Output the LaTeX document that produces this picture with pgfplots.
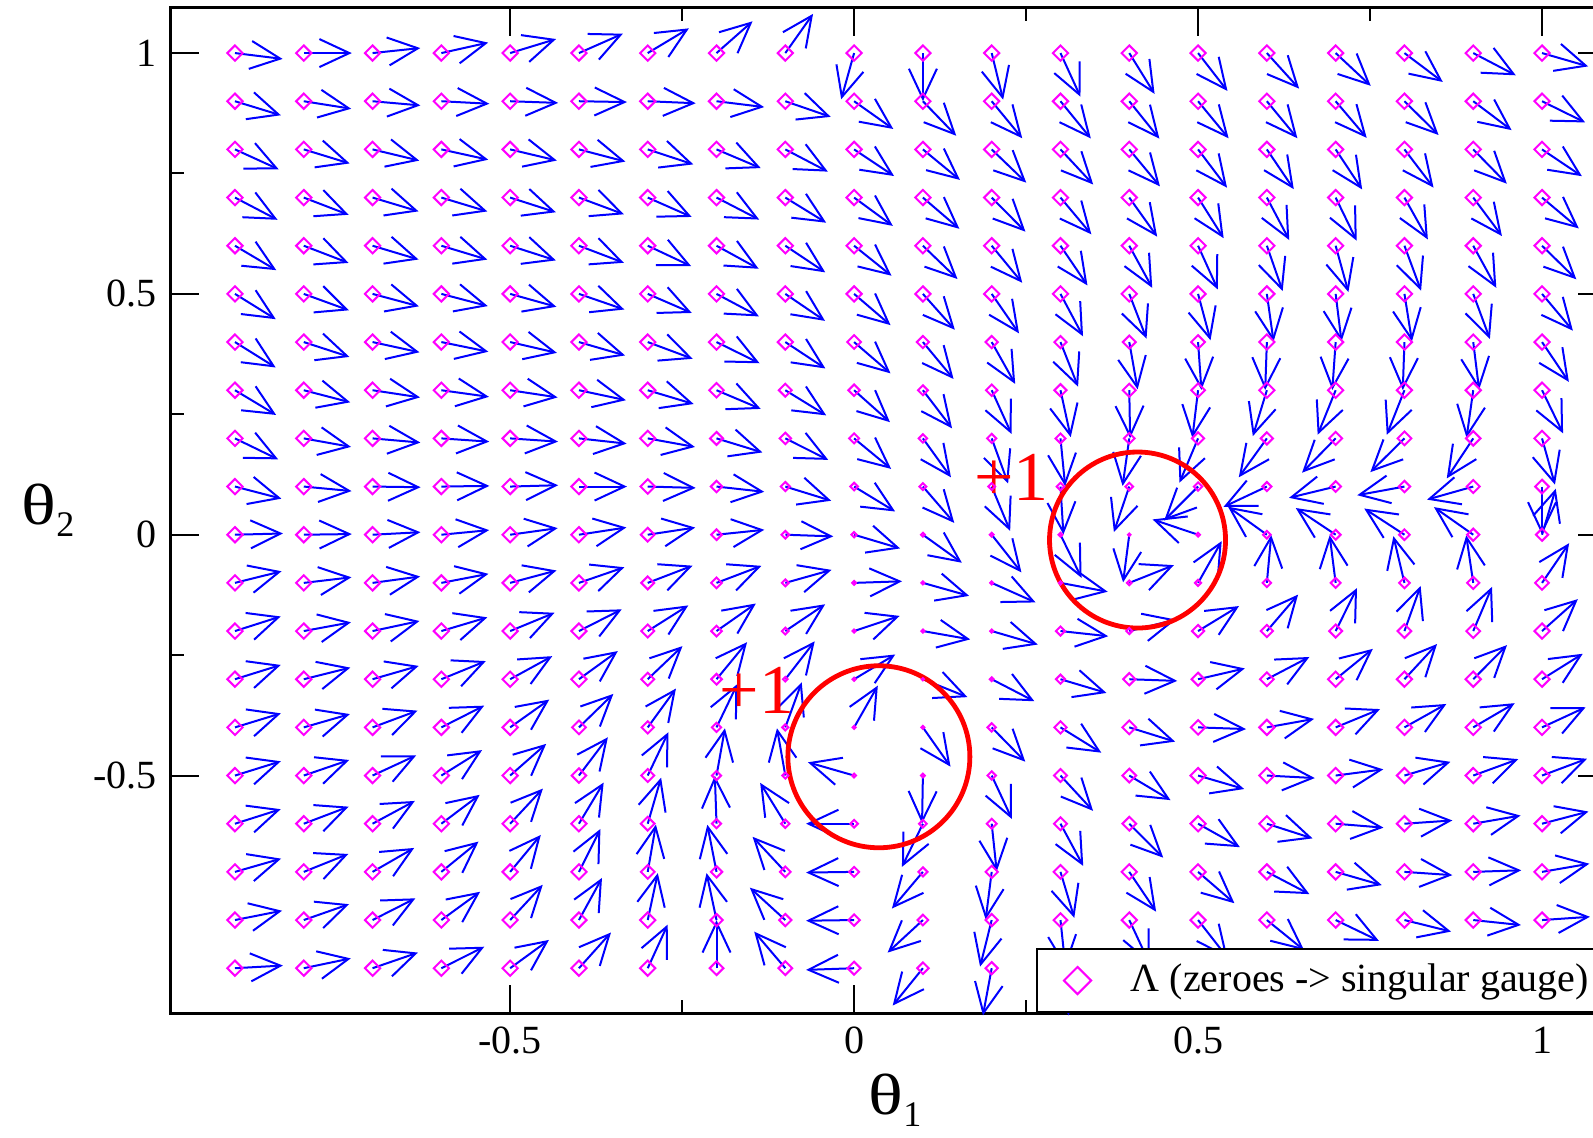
\documentclass[border=0pt]{standalone}
\usepackage{fontspec}
\setmainfont{Liberation Serif}
\usepackage{pgfplots}
\usepackage{pgfplotstable}
\pgfplotsset{compat=1.18}
\usetikzlibrary{arrows.meta}
\definecolor{mag}{RGB}{255,0,255}
\definecolor{vblue}{RGB}{0,0,255}
\definecolor{vred}{RGB}{255,0,0}

\pgfplotstableread{
x y a s
-0.9 1.0 -7 1
-0.8 1.0 0 1
-0.7 1.0 6 1
-0.6 1.0 12.6 1
-0.5 1.0 17 1
-0.4 1.0 23.8 1
-0.3 1.0 31 1
-0.2 1.0 41.4 1
-0.1 1.0 54.7 1
0.0 1.0 -105.6 1
0.1 1.0 -90 1
0.2 1.0 -76.2 1
0.3 1.0 -65.4 1
0.4 1.0 -58.2 1
0.5 1.0 -52.2 1
0.6 1.0 -47.8 1
0.7 1.0 -43 1
0.8 1.0 -37 1
0.9 1.0 -27.6 1
1.0 1.0 -16.1 1
-0.9 0.9 -17 1
-0.8 0.9 -9 1
-0.7 0.9 -5 1
-0.6 0.9 -3 1
-0.5 0.9 -2 1
-0.4 0.9 -1 1
-0.3 0.9 -2.4 1
-0.2 0.9 -7 1
-0.1 0.9 -19 1
0.0 0.9 -35.3 1
0.1 0.9 -46 1
0.2 0.9 -50.5 1
0.3 0.9 -50.8 1
0.4 0.9 -51.2 1
0.5 0.9 -50.5 1
0.6 0.9 -50.5 1
0.7 0.9 -49.7 1
0.8 0.9 -44.7 1
0.9 0.9 -37 1
1.0 0.9 -26.2 1
-0.9 0.8 -24.5 1
-0.8 0.8 -17 1
-0.7 0.8 -13.5 1
-0.6 0.8 -12.4 1
-0.5 0.8 -13.4 1
-0.4 0.8 -14.7 1
-0.3 0.8 -18.2 1
-0.2 0.8 -22.9 1
-0.1 0.8 -27.6 1
0.0 0.8 -33.7 1
0.1 0.8 -39.5 1
0.2 0.8 -43.9 1
0.3 0.8 -47 1
0.4 0.8 -50.3 1
0.5 0.8 -52.9 1
0.6 0.8 -55.9 1
0.7 0.8 -56.5 1
0.8 0.8 -52.7 1
0.9 0.8 -45.6 1
1.0 0.8 -33.9 1
-0.9 0.7 -27.6 1
-0.8 0.7 -21 1
-0.7 0.7 -16.7 1
-0.6 0.7 -16.8 1
-0.5 0.7 -17.8 1
-0.4 0.7 -20.4 1
-0.3 0.7 -23.8 1
-0.2 0.7 -27.3 1
-0.1 0.7 -31.6 1
0.0 0.7 -36.2 1
0.1 0.7 -40.6 1
0.2 0.7 -45.3 1
0.3 0.7 -50 1
0.4 0.7 -54.5 1
0.5 0.7 -57.8 1
0.6 0.7 -62.2 1
0.7 0.7 -64 1
0.8 0.7 -60.8 1
0.9 0.7 -53.3 1
1.0 0.7 -40 1
-0.9 0.6 -30.6 1
-0.8 0.6 -21 1
-0.7 0.6 -16.7 1
-0.6 0.6 -16.8 1
-0.5 0.6 -17.8 1
-0.4 0.6 -20.8 1
-0.3 0.6 -25.2 1
-0.2 0.6 -28.7 1
-0.1 0.6 -33.7 1
0.0 0.6 -38.7 1
0.1 0.6 -43.9 1
0.2 0.6 -50.5 1
0.3 0.6 -55.8 1
0.4 0.6 -61.4 1
0.5 0.6 -65.7 1
0.6 0.6 -70.8 1
0.7 0.6 -74.6 1
0.8 0.6 -69.7 1
0.9 0.6 -61.3 1
1.0 0.6 -44.4 1
-0.9 0.5 -31.8 1
-0.8 0.5 -20 1
-0.7 0.5 -15 1
-0.6 0.5 -14.7 1
-0.5 0.5 -15.6 1
-0.4 0.5 -19 1
-0.3 0.5 -23.4 1
-0.2 0.5 -28 1
-0.1 0.5 -34.2 1
0.0 0.5 -40.6 1
0.1 0.5 -48.3 1
0.2 0.5 -55.3 1
0.3 0.5 -62 1
0.4 0.5 -68.9 1
0.5 0.5 -75 1
0.6 0.5 -82 1
0.7 0.5 -83 1
0.8 0.5 -81 1
0.9 0.5 -69.7 1
1.0 0.5 -50 1
-0.9 0.4 -32 1
-0.8 0.4 -18 1
-0.7 0.4 -12.3 1
-0.6 0.4 -11.6 1
-0.5 0.4 -13 1
-0.4 0.4 -16.2 1
-0.3 0.4 -20.4 1
-0.2 0.4 -26.2 1
-0.1 0.4 -33.4 1
0.0 0.4 -40.7 0.9
0.1 0.4 -50.3 0.8
0.2 0.4 -60.7 0.8
0.3 0.4 -68.5 0.8
0.4 0.4 -80 0.85
0.5 0.4 -86 0.9
0.6 0.4 -92 1
0.7 0.4 -94 1
0.8 0.4 -92 1
0.9 0.4 -83 1
1.0 0.4 -56 1
-0.9 0.3 -31 1
-0.8 0.3 -14.6 1
-0.7 0.3 -8.6 1
-0.6 0.3 -7.9 1
-0.5 0.3 -8.6 1
-0.4 0.3 -12 1
-0.3 0.3 -16.7 1
-0.2 0.3 -22.9 0.95
-0.1 0.3 -31.6 0.85
0.0 0.3 -41.7 0.75
0.1 0.3 -52.6 0.65
0.2 0.3 -65.6 0.75
0.3 0.3 -77.7 0.8
0.4 0.3 -89 0.85
0.5 0.3 -96.8 0.9
0.6 0.3 -107 1
0.7 0.3 -112 1
0.8 0.3 -111.6 1
0.9 0.3 -98 1
1.0 0.3 -64 1
-0.9 0.2 -25.9 1
-0.8 0.2 -10.2 1
-0.7 0.2 -5 1
-0.6 0.2 -3.9 1
-0.5 0.2 -3.9 1
-0.4 0.2 -6.3 1
-0.3 0.2 -10.3 1
-0.2 0.2 -17 0.85
-0.1 0.2 -26.6 0.75
0.0 0.2 -39.5 0.65
0.1 0.2 -54.2 0.55
0.2 0.2 -70 0.6
0.3 0.2 -84.4 0.65
0.4 0.2 -98 0.7
0.5 0.2 -112.8 0.8
0.6 0.2 -125.8 0.8
0.7 0.2 -134.4 0.85
0.8 0.2 -135.3 0.9
0.9 0.2 -123.5 0.95
1.0 0.2 -74.4 1
-0.9 0.1 -14.6 1
-0.8 0.1 -5.4 1
-0.7 0.1 -0.8 1
-0.6 0.1 0.8 1
-0.5 0.1 1.6 1
-0.4 0.1 0 1
-0.3 0.1 -1.6 0.95
-0.2 0.1 -6.3 0.75
-0.1 0.1 -17.2 0.6
0.0 0.1 -31.3 0.5
0.1 0.1 -49.2 0.45
0.2 0.1 -67.4 0.45
0.3 0.1 -86.5 0.5
0.4 0.1 -108.7 0.5
0.5 0.1 -135 0.55
0.6 0.1 -154.8 0.6
0.7 0.1 -166.4 0.7
0.8 0.1 -169.6 0.75
0.9 0.1 -164.2 0.85
1.0 0.1 -90 0.9
-0.9 0.0 1.5 1
-0.8 0.0 0.8 1
-0.7 0.0 3 1
-0.6 0.0 5.5 1
-0.5 0.0 7.9 1
-0.4 0.0 8.7 1
-0.3 0.0 8.6 0.9
-0.2 0.0 5.9 0.7
-0.1 0.0 -2 0.5
0.0 0.0 -16.6 0.35
0.1 0.0 -35.7 0.25
0.2 0.0 -51.7 0.25
0.3 0.0 -64 0.25
0.4 0.0 -97.4 0.15
0.5 0.0 161.4 0.25
0.6 0.0 144.2 0.5
0.7 0.0 146.2 0.65
0.8 0.0 146.9 0.7
0.9 0.0 144.9 0.8
1.0 0.0 73.4 0.8
-0.9 -0.1 14 1
-0.8 -0.1 6.7 1
-0.7 -0.1 7.7 1
-0.6 -0.1 10.9 1
-0.5 -0.1 15 1
-0.4 -0.1 19 1
-0.3 -0.1 21 0.85
-0.2 -0.1 20.8 0.7
-0.1 -0.1 15.7 0.45
0.0 -0.1 1.9 0.25
0.1 -0.1 -15.7 0.2
0.2 -0.1 -24 0.2
0.3 -0.1 -10.6 0.2
0.4 -0.1 21.7 0.3
0.5 -0.1 60.5 0.4
0.6 -0.1 84.8 0.55
0.7 -0.1 97.2 0.65
0.8 -0.1 103.3 0.7
0.9 -0.1 98.4 0.8
1.0 -0.1 55.7 0.9
-0.9 -0.2 17.7 1
-0.8 -0.2 10.5 1
-0.7 -0.2 12.1 1
-0.6 -0.2 16.6 1
-0.5 -0.2 22.4 1
-0.4 -0.2 26.9 1
-0.3 -0.2 32.3 0.85
-0.2 -0.2 35 0.7
-0.1 -0.2 33.9 0.45
0.0 -0.2 18.4 0.2
0.1 -0.2 -10 0.2
0.2 -0.2 -16.3 0.2
0.3 -0.2 -6.2 0.6
0.4 -0.2 13.8 0.4
0.5 -0.2 31.4 0.8
0.6 -0.2 49.4 0.8
0.7 -0.2 63.6 0.85
0.8 -0.2 70.3 0.9
0.9 -0.2 67 0.9
1.0 -0.2 41.7 1
-0.9 -0.3 17.3 1
-0.8 -0.3 14 1
-0.7 -0.3 16.1 1
-0.6 -0.3 22.2 1
-0.5 -0.3 28.7 1
-0.4 -0.3 35.9 1
-0.3 -0.3 43.6 0.85
-0.2 -0.3 50.5 0.7
-0.1 -0.3 52.2 0.3
0.0 -0.3 31 0.2
0.1 -0.3 -21.9 0.15
0.2 -0.3 -27.3 0.25
0.3 -0.3 -16.6 0.6
0.4 -0.3 -2 0.8
0.5 -0.3 13 0.85
0.6 -0.3 27.6 0.9
0.7 -0.3 39.2 1
0.8 -0.3 47.2 1
0.9 -0.3 45.3 1
1.0 -0.3 32 1
-0.9 -0.4 17 1
-0.8 -0.4 16.1 1
-0.7 -0.4 20.4 1
-0.6 -0.4 26.9 1
-0.5 -0.4 35.4 1
-0.4 -0.4 44.2 0.9
-0.3 -0.4 54 0.8
-0.2 -0.4 64.3 0.6
-0.1 -0.4 70 0.4
0.0 -0.4 60.4 0.2
0.1 -0.4 -54.9 0.2
0.2 -0.4 -45.6 0.55
0.3 -0.4 -31.8 0.8
0.4 -0.4 -17.3 0.9
0.5 -0.4 -2 0.95
0.6 -0.4 10.2 1
0.7 -0.4 22.4 1
0.8 -0.4 29.2 1
0.9 -0.4 30.3 1
1.0 -0.4 24.8 1
-0.9 -0.5 17.3 1
-0.8 -0.5 18.9 1
-0.7 -0.5 24.8 1
-0.6 -0.5 32 1
-0.5 -0.5 41.3 1
-0.4 -0.5 52.9 0.95
-0.3 -0.5 64.5 0.85
-0.2 -0.5 79.9 0.6
-0.1 -0.5 100 0.4
0.0 -0.5 164 0.25
0.1 -0.5 -91 0.25
0.2 -0.5 -65 0.55
0.3 -0.5 -47.3 0.85
0.4 -0.5 -30.8 0.9
0.5 -0.5 -16.3 1
0.6 -0.5 -3 1
0.7 -0.5 7.4 1
0.8 -0.5 16.6 1
0.9 -0.5 20 1
1.0 -0.5 20.5 1
-0.9 -0.6 17.6 1
-0.8 -0.6 20.8 1
-0.7 -0.6 28.3 1
-0.6 -0.6 37 1
-0.5 -0.6 47 1
-0.4 -0.6 59 1
-0.3 -0.6 73.8 0.9
-0.2 -0.6 92 0.6
-0.1 -0.6 121.6 0.55
0.0 -0.6 180 0.5
0.1 -0.6 -115.9 0.5
0.2 -0.6 -84 0.65
0.3 -0.6 -61.7 0.85
0.4 -0.6 -45 0.9
0.5 -0.6 -29.3 1
0.6 -0.6 -17.8 1
0.7 -0.6 -4.7 1
0.8 -0.6 3.9 1
0.9 -0.6 9.8 1
1.0 -0.6 14.7 1
-0.9 -0.7 16 1
-0.8 -0.7 21.9 1
-0.7 -0.7 29.9 1
-0.6 -0.7 39.2 1
-0.5 -0.7 50.3 1
-0.4 -0.7 63.4 1
-0.3 -0.7 80.2 0.9
-0.2 -0.7 101 0.75
-0.1 -0.7 133 0.7
0.0 -0.7 180.8 0.65
0.1 -0.7 -130.2 0.6
0.2 -0.7 -97.2 0.8
0.3 -0.7 -73.3 0.9
0.4 -0.7 -56 1
0.5 -0.7 -40.8 1
0.6 -0.7 -27.6 1
0.7 -0.7 -16 1
0.8 -0.7 -3.9 1
0.9 -0.7 1.9 1
1.0 -0.7 9.8 1
-0.9 -0.8 11.2 1
-0.8 -0.8 19.3 1
-0.7 -0.8 26.9 1
-0.6 -0.8 36.1 1
-0.5 -0.8 47.2 1
-0.4 -0.8 61.3 1
-0.3 -0.8 77.9 1
-0.2 -0.8 102 0.8
-0.1 -0.8 137.6 0.8
0.0 -0.8 180.8 0.75
0.1 -0.8 -137.3 0.7
0.2 -0.8 -104 0.8
0.3 -0.8 -84 0.9
0.4 -0.8 -65 1
0.5 -0.8 -52 1
0.6 -0.8 -39 1
0.7 -0.8 -25.7 1
0.8 -0.8 -13.9 1
0.9 -0.8 -6 1
1.0 -0.8 3.9 1
-0.9 -0.9 3.2 1
-0.8 -0.9 11.8 1
-0.7 -0.9 19 1
-0.6 -0.9 26.6 1
-0.5 -0.9 36.1 1
-0.4 -0.9 48.1 1
-0.3 -0.9 65.4 1
-0.2 -0.9 90 0.9
-0.1 -0.9 130.4 0.9
0.0 -0.9 182 0.85
0.1 -0.9 -129 0.75
0.2 -0.9 -100.5 0.8
0.3 -0.9 -80 1
0.4 -0.9 -70 1
0.5 -0.9 -60 1
0.6 -0.9 -50 1
0.7 -0.9 -35 1
0.8 -0.9 -22 1
0.9 -0.9 -12 1
1.0 -0.9 -2 1
}\field

\begin{document}
\begin{tikzpicture}
\path[use as bounding box, clip] (0pt,0pt) rectangle (398.25pt,284.25pt);
\begin{axis}[
  at={(42.75pt,31pt)}, anchor=south west,
  scale only axis, width=358.75pt, height=251.3pt,
  xmin=-0.993, xmax=1.093, ymin=-0.993, ymax=1.094,
  xtick={-0.5,0,0.5,1}, ytick={-0.5,0,0.5,1},
  minor tick num=1,
  tick align=inside,
  xtick pos=both, ytick pos=both,
  xticklabel pos=lower, yticklabel pos=left,
  major tick length=7pt, minor tick length=3.3pt,
  axis line style={line width=0.75pt},
  every tick/.style={black, line width=0.5pt},
  tick label style={font=\fontsize{10}{12}\selectfont},
  /pgf/number format/assume math mode=true,
  clip=false,
  legend style={at={(axis cs:0.264,-0.993)}, anchor=south west, draw=black,
    line width=0.6pt, fill=white, font=\fontsize{10}{12}\selectfont,
    inner xsep=5pt, inner ysep=1.6pt, cells={anchor=west}},
  legend image code/.code={\path[draw=none,fill=none] (0pt,0pt) -- (16.5pt,0pt); \draw[mag,line width=0.5pt] (1.75pt,0pt) -- (5.15pt,3.4pt) -- (8.55pt,0pt) -- (5.15pt,-3.4pt) -- cycle;},
]
\addplot[vblue, line width=0.5pt, no markers, -{Straight Barb[length=7.5pt,width=7pt]},
  quiver={u={0.06977*cos(\thisrow{a})}, v={0.09965*sin(\thisrow{a})}}, forget plot]
  table[x=x, y=y] {\field};
\addplot[only marks, scatter, mark=square, mark options={rotate=45, line width=0.5pt},
  scatter/use mapped color={draw=mag, fill=mag},
  visualization depends on={\thisrow{s} \as \perpointmarksize},
  scatter/@pre marker code/.append style={/tikz/mark size=1.35*\perpointmarksize}]
  table[x=x, y=y] {\field};
\addlegendentry{Λ (zeroes -> singular gauge)\hspace{6pt}}
\draw[vred, line width=1.2pt] (axis cs:0.412,-0.011) circle[radius=22pt];
\draw[vred, line width=1.2pt] (axis cs:0.036,-0.461) circle[radius=22.75pt];
\node[vred, inner sep=0pt, font=\fontsize{17.5}{18}\selectfont] at (axis cs:0.229,0.12) {+1};
\node[vred, inner sep=0pt, font=\fontsize{17.5}{18}\selectfont] at (axis cs:-0.141,-0.323) {+1};
\end{axis}
\node[inner sep=0pt] at (223.75pt,9.25pt) {\fontsize{14.5}{16}\selectfont \scalebox{1.25}[1]{θ}\raisebox{-0.45ex}{\fontsize{9}{10}\selectfont 1}};
\node[inner sep=0pt] at (12pt,156.75pt) {\fontsize{14.5}{16}\selectfont \scalebox{1.25}[1]{θ}\raisebox{-0.45ex}{\fontsize{9}{10}\selectfont 2}};
\end{tikzpicture}
\end{document}
